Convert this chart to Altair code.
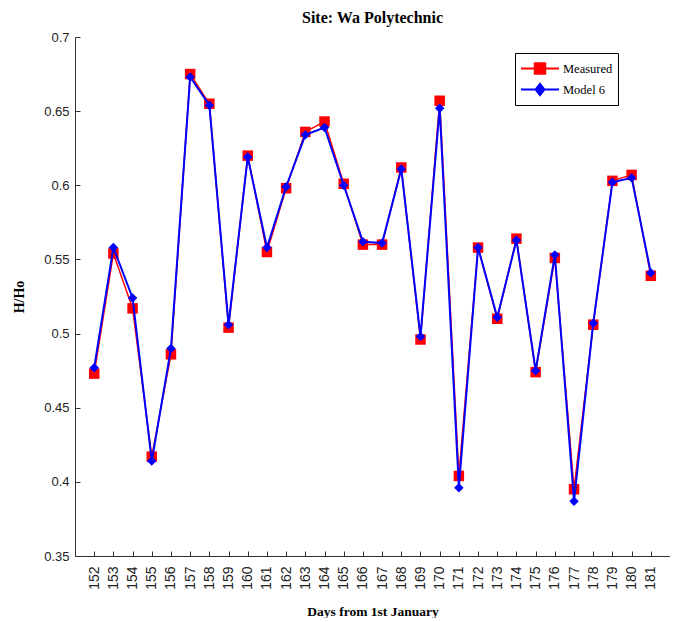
import altair as alt
import pandas as pd

days = list(range(152, 182))
measured = [0.473, 0.554, 0.517, 0.417, 0.486, 0.675, 0.655, 0.504, 0.620, 0.555,
            0.598, 0.636, 0.643, 0.601, 0.560, 0.560, 0.612, 0.496, 0.657, 0.404,
            0.558, 0.510, 0.564, 0.474, 0.551, 0.395, 0.506, 0.603, 0.607, 0.539]
model6 = [0.477, 0.558, 0.524, 0.414, 0.490, 0.673, 0.654, 0.506, 0.619, 0.558,
          0.599, 0.634, 0.639, 0.600, 0.562, 0.561, 0.611, 0.498, 0.652, 0.396,
          0.558, 0.511, 0.563, 0.475, 0.553, 0.387, 0.507, 0.602, 0.605, 0.541]
series_names = ["Measured", "Model 6"]
series_colors = ["#ff0000", "#0000ff"]
y_ticks = [0.35, 0.4, 0.45, 0.5, 0.55, 0.6, 0.65, 0.7]
x_ticks = days

df = pd.DataFrame({
    "day": days * 2,
    "value": measured + model6,
    "series": [series_names[0]] * len(days) + [series_names[1]] * len(days),
})

xs = alt.Scale(domain=[151, 182], nice=False, zero=False)
ys = alt.Scale(domain=[0.35, 0.7], nice=False, zero=False)
# mark colour scale (domain listed in reverse so it is not merged with the legend scales)
cs_marks = alt.Scale(domain=series_names[::-1], range=series_colors[::-1])
cs_leg = alt.Scale(domain=series_names, range=series_colors)

# legend symbols: line segment with the series marker in its middle
sq_path = "M-1,0H3M0.45,-0.55H1.55V0.55H0.45Z"
di_path = "M-1,0H3M1,-0.6L1.47,0L1,0.6L0.53,0Z"
shape_scale = alt.Scale(domain=series_names, range=[sq_path, di_path])

legend = alt.Legend(
    orient="none", legendX=440, legendY=16, title=None,
    symbolSize=361, symbolStrokeWidth=2, labelOffset=22, symbolOpacity=1,
    labelFont="Liberation Serif", labelFontSize=12.5, labelColor="black",
    strokeColor="black", fillColor="white", padding=5, rowPadding=1,
)

main_x = alt.Axis(values=x_ticks, labelAngle=270, tickSize=0, labelPadding=10,
                  domainColor="#333333", labelFont="Liberation Sans", labelFontSize=14,
                  labelColor="#222222", title="Days from 1st January",
                  titleFont="Liberation Serif", titleFontSize=13.5, titleFontWeight="bold",
                  titleColor="black", titlePadding=15, grid=False,
                  labelFlush=False, labelOverlap=False)
main_y = alt.Axis(values=y_ticks, format=".2~f", tickSize=0, labelPadding=6,
                  domainColor="#333333", labelFont="Liberation Sans", labelFontSize=13,
                  labelColor="#222222", title="H/Ho", titleFont="Liberation Serif",
                  titleFontSize=14, titleFontWeight="bold", titleColor="black",
                  titlePadding=17, grid=False, labelFlush=False, labelOverlap=False)
tick_x = alt.Axis(values=x_ticks, orient="bottom", offset=-5, tickSize=5, domain=False,
                  labels=False, grid=False, tickColor="#333333")
tick_y = alt.Axis(values=y_ticks, orient="left", offset=-5, tickSize=5, domain=False,
                  labels=False, grid=False, tickColor="#333333")

base = alt.Chart(df)
meas = base.transform_filter(alt.datum.series == series_names[0])
mod = base.transform_filter(alt.datum.series == series_names[1])

color = alt.Color("series:N", scale=cs_marks, legend=None)

l1 = meas.mark_line(strokeWidth=1.5).encode(
    x=alt.X("day:Q", scale=xs, axis=main_x),
    y=alt.Y("value:Q", scale=ys, axis=main_y),
    color=color,
)
l2 = meas.mark_point(shape="square", filled=True, size=110, opacity=1).encode(
    x=alt.X("day:Q", scale=xs, axis=tick_x, title=None),
    y=alt.Y("value:Q", scale=ys, axis=tick_y, title=None),
    color=color,
)
l3 = mod.mark_line(strokeWidth=2).encode(
    x=alt.X("day:Q", scale=xs, axis=None),
    y=alt.Y("value:Q", scale=ys, axis=None),
    color=color,
)
l4 = mod.mark_point(shape="diamond", filled=True, size=90, opacity=1).encode(
    x=alt.X("day:Q", scale=xs, axis=None),
    y=alt.Y("value:Q", scale=ys, axis=None),
    color=color,
)
# legend-only layer (no data drawn, scales have explicit domains)
leg = base.transform_filter("false").mark_point(filled=True, opacity=1).encode(
    x=alt.X("day:Q", scale=xs, axis=None),
    y=alt.Y("value:Q", scale=ys, axis=None),
    fill=alt.Fill("series:N", scale=cs_leg, legend=legend),
    stroke=alt.Stroke("series:N", scale=cs_leg, legend=legend),
    shape=alt.Shape("series:N", scale=shape_scale, legend=legend),
)

chart = alt.layer(l1, l2, l3, l4, leg).resolve_axis(x="independent", y="independent").properties(
    width=595, height=519,
    autosize=alt.AutoSizeParams(type="none"),
    padding={"left": 67, "top": 29, "right": 0, "bottom": 62},
    title=alt.TitleParams("Site: Wa Polytechnic", font="Liberation Serif", fontSize=16,
                          fontWeight="bold", anchor="middle", offset=5, color="black"),
    background="white",
).configure_view(stroke=None)

chart.save("out.html", embed_options={"renderer": "svg", "actions": False})
